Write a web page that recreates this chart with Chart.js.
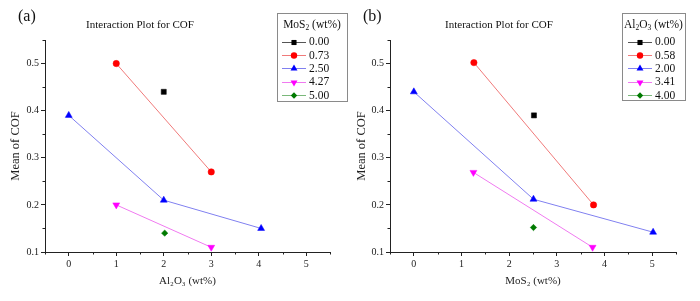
<!DOCTYPE html>
<html><head><meta charset="utf-8">
<script src="https://cdn.jsdelivr.net/npm/chart.js@4/dist/chart.umd.min.js"></script>
<style>
html,body{margin:0;padding:0;background:#fff;}
#wrap{position:relative;width:700px;height:301px;overflow:hidden;background:#fff;}
.pane{position:absolute;top:0;width:350px;height:301px;}
</style></head><body>
<div id="wrap">
<div class="pane" style="left:0"><canvas id="ca" width="350" height="301"></canvas></div>
<div class="pane" style="left:350px"><canvas id="cb" width="350" height="301"></canvas></div>
</div>
<script>
// ---------- data ----------
const xTickValues = [0, 1, 2, 3, 4, 5];
const yTickValues = [0.1, 0.2, 0.3, 0.4, 0.5];

// Panel (a): x = Al2O3 (wt%), series = MoS2 (wt%)
const seriesA = ['0.00', '0.73', '2.50', '4.27', '5.00'];
const a000x = [2];             const a000y = [0.44];
const a073x = [1, 3];          const a073y = [0.50, 0.27];
const a250x = [0, 2, 4.05];    const a250y = [0.39, 0.21, 0.15];
const a427x = [1, 3];          const a427y = [0.20, 0.11];
const a500x = [2.02];          const a500y = [0.14];

// Panel (b): x = MoS2 (wt%), series = Al2O3 (wt%)
const seriesB = ['0.00', '0.58', '2.00', '3.41', '4.00'];
const b000x = [2.52];              const b000y = [0.39];
const b058x = [1.26, 3.77];        const b058y = [0.502, 0.20];
const b200x = [0, 2.51, 5.02];     const b200y = [0.44, 0.212, 0.142];
const b341x = [1.25, 3.75];        const b341y = [0.269, 0.11];
const b400x = [2.51];              const b400y = [0.152];

// ---------- styles ----------
const SERIF = "'Liberation Serif','Times New Roman','DejaVu Serif',serif";
const markColors = ['#000000', '#ff0000', '#0000ff', '#ff00ff', '#007a00'];
const lineColors = ['#555555', '#f07a7a', '#8080f0', '#f07af0', '#7ab87a'];
const markStyles = ['rect', 'circle', 'triangle', 'triangle', 'rectRot'];
const markRot = [0, 0, 0, 180, 0];
const markRadius = [3.6, 3.2, 4, 4, 3.2];

function pts(xs, ys) { return xs.map((x, i) => ({x: x, y: ys[i]})); }
function makeDatasets(names, xsList, ysList) {
  return names.map((n, i) => ({
    label: n,
    data: pts(xsList[i], ysList[i]),
    showLine: true,
    borderColor: lineColors[i],
    borderWidth: 1,
    backgroundColor: markColors[i],
    pointBackgroundColor: markColors[i],
    pointBorderColor: markColors[i],
    pointBorderWidth: 0.5,
    pointStyle: markStyles[i],
    rotation: markRot[i],
    pointRadius: markRadius[i],
    pointHoverRadius: markRadius[i]
  }));
}

// draw marker for legend
function drawMark(ctx, style, rot, r, x, y, color) {
  ctx.save();
  ctx.fillStyle = color;
  ctx.beginPath();
  if (style === 'rect') {
    const s = r * Math.SQRT1_2;
    ctx.rect(x - s, y - s, 2 * s, 2 * s);
  } else if (style === 'circle') {
    ctx.arc(x, y, r, 0, Math.PI * 2);
  } else if (style === 'triangle') {
    let a = rot * Math.PI / 180;
    ctx.moveTo(x + Math.sin(a) * r, y - Math.cos(a) * r);
    a += 2 * Math.PI / 3;
    ctx.lineTo(x + Math.sin(a) * r, y - Math.cos(a) * r);
    a += 2 * Math.PI / 3;
    ctx.lineTo(x + Math.sin(a) * r, y - Math.cos(a) * r);
    ctx.closePath();
  } else if (style === 'rectRot') {
    ctx.moveTo(x, y - r); ctx.lineTo(x + r, y); ctx.lineTo(x, y + r); ctx.lineTo(x - r, y); ctx.closePath();
  }
  ctx.fill();
  ctx.restore();
}

// rich text with subscripts: parts = [[text, isSub], ...]
function drawRich(ctx, parts, cx, cy, size, align) {
  let w = 0;
  const ws = parts.map(p => {
    ctx.font = (p[1] ? size * 0.65 : size) + 'px ' + SERIF;
    const m = ctx.measureText(p[0]).width; w += m; return m;
  });
  let x = align === 'left' ? cx : cx - w / 2;
  ctx.textAlign = 'left';
  ctx.textBaseline = 'middle';
  parts.forEach((p, i) => {
    ctx.font = (p[1] ? size * 0.65 : size) + 'px ' + SERIF;
    ctx.fillText(p[0], x, cy + (p[1] ? size * 0.3 : 0));
    x += ws[i];
  });
}

const decorPlugin = {
  id: 'decor',
  afterDraw(chart, args, o) {
    const ctx = chart.ctx;
    const xs = chart.scales.x, ys = chart.scales.y;
    ctx.save();
    // minor ticks
    ctx.strokeStyle = '#222'; ctx.lineWidth = 1;
    ctx.beginPath();
    for (let v = -0.5; v <= 5.51; v += 1) {
      const px = Math.round(xs.getPixelForValue(v)) + 0.5;
      ctx.moveTo(px, xs.top); ctx.lineTo(px, xs.top + 2.5);
    }
    for (let v = 0.15; v <= 0.551; v += 0.1) {
      const py = Math.round(ys.getPixelForValue(v)) + 0.5;
      ctx.moveTo(ys.right, py); ctx.lineTo(ys.right - 2.5, py);
    }
    ctx.stroke();
    // panel letter
    ctx.fillStyle = '#111';
    ctx.font = '16px ' + SERIF;
    ctx.textAlign = 'left'; ctx.textBaseline = 'middle';
    ctx.fillText(o.letter, o.letterX, 17);
    // title
    ctx.font = '11px ' + SERIF;
    ctx.textAlign = 'center';
    ctx.fillText('Interaction Plot for COF', o.titleX, 25.5);
    // legend box
    const b = o.box;
    ctx.strokeStyle = '#8a8a8a'; ctx.lineWidth = 1;
    ctx.strokeRect(b[0] + 0.5, b[1] + 0.5, b[2] - b[0], b[3] - b[1]);
    ctx.fillStyle = '#111';
    drawRich(ctx, o.legendTitle, (b[0] + b[2]) / 2, 25, 11.5, 'center');
    chart.data.datasets.forEach((ds, i) => {
      const yy = 41.8 + i * 13.3;
      ctx.strokeStyle = lineColors[i]; ctx.lineWidth = 1;
      ctx.beginPath(); ctx.moveTo(o.lineX0, Math.round(yy) + 0.5); ctx.lineTo(o.lineX1, Math.round(yy) + 0.5); ctx.stroke();
      drawMark(ctx, markStyles[i], markRot[i], markRadius[i], (o.lineX0 + o.lineX1) / 2, Math.round(yy) + 0.5, markColors[i]);
      ctx.fillStyle = '#111';
      ctx.font = '11.5px ' + SERIF;
      ctx.textAlign = 'left'; ctx.textBaseline = 'middle';
      ctx.fillText(ds.label, o.lineX1 + 3, yy + 0.5);
    });
    ctx.restore();
  }
};

function makeChart(id, datasets, xTitle, yWidth, yTitlePad, padRight, decor) {
  return new Chart(document.getElementById(id), {
    type: 'scatter',
    data: {datasets: datasets},
    plugins: [decorPlugin],
    options: {
      responsive: false,
      animation: false,
      events: [],
      layout: {padding: {left: 0, right: padRight, top: 40, bottom: 0}},
      plugins: {legend: {display: false}, tooltip: {enabled: false}, title: {display: false}, decor: decor},
      scales: {
        x: {
          type: 'linear', min: -0.5, max: 5.5,
          afterBuildTicks: s => { s.ticks = xTickValues.map(v => ({value: v})); },
          afterFit: s => { s.height = 49; },
          ticks: {font: {family: SERIF, size: 10}, color: '#222', padding: 2, maxRotation: 0, autoSkip: false,
                  callback: v => String(v)},
          grid: {display: true, drawOnChartArea: false, drawTicks: true, tickLength: 4, tickColor: '#222', tickWidth: 1},
          border: {display: true, color: '#222', width: 1},
          title: {display: true, text: xTitle, font: {family: SERIF, size: 11}, color: '#222', padding: {top: 0, bottom: 13}}
        },
        y: {
          type: 'linear', min: 0.1, max: 0.55,
          afterBuildTicks: s => { s.ticks = yTickValues.map(v => ({value: v})); },
          afterFit: s => { s.width = yWidth; },
          ticks: {font: {family: SERIF, size: 10}, color: '#222', padding: 2, autoSkip: false,
                  callback: v => v.toFixed(1)},
          grid: {display: true, drawOnChartArea: false, drawTicks: true, tickLength: 4, tickColor: '#222', tickWidth: 1},
          border: {display: true, color: '#222', width: 1},
          title: {display: true, text: 'Mean of COF', font: {family: SERIF, size: 12.5}, color: '#222', padding: {top: yTitlePad, bottom: 0}}
        }
      }
    }
  });
}

makeChart('ca',
  makeDatasets(seriesA, [a000x, a073x, a250x, a427x, a500x], [a000y, a073y, a250y, a427y, a500y]),
  'Al₂O₃ (wt%)', 45, 8, 20,
  {letter: '(a)', letterX: 18, titleX: 140, box: [277, 13, 347, 101],
   legendTitle: [['MoS', 0], ['2', 1], [' (wt%)', 0]], lineX0: 282, lineX1: 306});

makeChart('cb',
  makeDatasets(seriesB, [b000x, b058x, b200x, b341x, b400x], [b000y, b058y, b200y, b341y, b400y]),
  'MoS₂ (wt%)', 40, 4, 24,
  {letter: '(b)', letterX: 13, titleX: 149, box: [272, 13, 335, 100],
   legendTitle: [['Al', 0], ['2', 1], ['O', 0], ['3', 1], [' (wt%)', 0]], lineX0: 278, lineX1: 302});
</script>
</body></html>
